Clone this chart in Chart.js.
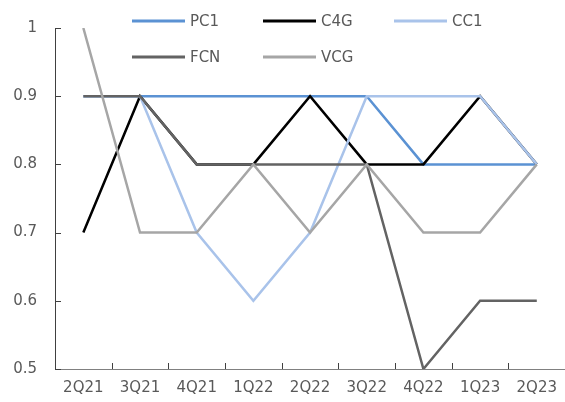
<!DOCTYPE html>
<html>
<head>
<meta charset="utf-8">
<script src="https://cdn.jsdelivr.net/npm/chart.js@4.4.1/dist/chart.umd.min.js"></script>
<style>
  html, body { margin: 0; padding: 0; background: #fff; overflow: hidden; }
  #wrap { position: relative; width: 567px; height: 402px; }
</style>
</head>
<body>
<div id="wrap"><canvas id="c" width="567" height="402"></canvas></div>
<script>
const categories = ['2Q21', '3Q21', '4Q21', '1Q22', '2Q22', '3Q22', '4Q22', '1Q23', '2Q23'];
const yTicks = [0.5, 0.6, 0.7, 0.8, 0.9, 1];
const PC1 = [0.9, 0.9, 0.9, 0.9, 0.9, 0.9, 0.8, 0.8, 0.8];
const C4G = [0.7, 0.9, 0.8, 0.8, 0.9, 0.8, 0.8, 0.9, 0.8];
const CC1 = [0.9, 0.9, 0.7, 0.6, 0.7, 0.9, 0.9, 0.9, 0.8];
const FCN = [0.9, 0.9, 0.8, 0.8, 0.8, 0.8, 0.5, 0.6, 0.6];
const VCG = [1.0, 0.7, 0.7, 0.8, 0.7, 0.8, 0.7, 0.7, 0.8];
const seriesNames = ['PC1', 'C4G', 'CC1', 'FCN', 'VCG'];

const colors = ['#5b92d3', '#000000', '#a9c3ea', '#636363', '#a6a6a6'];
const FONT = '"DejaVu Sans", sans-serif';
const TXT = '#595959';

const seriesData = [PC1, C4G, CC1, FCN, VCG];
const datasets = seriesNames.map((n, i) => ({
  label: n,
  data: seriesData[i],
  borderColor: colors[i],
  backgroundColor: colors[i],
  borderWidth: 2.5,
  pointRadius: 0,
  tension: 0,
  fill: false,
  order: seriesNames.length - i
}));

const legendPos = [[132, 21], [263, 21], [394, 21], [132, 57], [263, 57]];

const customPlugin = {
  id: 'custom',
  afterDraw(chart) {
    const ctx = chart.ctx;
    const xs = chart.scales.x, ys = chart.scales.y;
    const ca = chart.chartArea;
    ctx.save();
    // inward ticks on y axis
    ctx.strokeStyle = '#404040';
    ctx.lineWidth = 1;
    yTicks.forEach(v => {
      const y = Math.round(ys.getPixelForValue(v)) + 0.5;
      ctx.beginPath();
      ctx.moveTo(ca.left, y);
      ctx.lineTo(ca.left + 6, y);
      ctx.stroke();
    });
    // inward ticks on x axis at category boundaries
    ctx.strokeStyle = '#404040';
    for (let i = 0; i <= categories.length; i++) {
      let x;
      if (i === 0) x = ca.left;
      else if (i === categories.length) x = ca.right;
      else x = (xs.getPixelForValue(i - 1) + xs.getPixelForValue(i)) / 2;
      x = Math.round(x) + 0.5;
      ctx.beginPath();
      ctx.moveTo(x, ca.bottom);
      ctx.lineTo(x, ca.bottom - 6);
      ctx.stroke();
    }
    // legend
    ctx.font = '15px ' + FONT;
    ctx.textBaseline = 'middle';
    ctx.textAlign = 'left';
    chart.data.datasets.forEach((ds, i) => {
      const [lx, ly] = legendPos[i];
      ctx.strokeStyle = ds.borderColor;
      ctx.lineWidth = 3;
      ctx.beginPath();
      ctx.moveTo(lx, ly);
      ctx.lineTo(lx + 53, ly);
      ctx.stroke();
      ctx.fillStyle = TXT;
      ctx.fillText(ds.label, lx + 58, ly + 1);
    });
    ctx.restore();
  }
};

new Chart(document.getElementById('c'), {
  type: 'line',
  data: { labels: categories, datasets },
  options: {
    responsive: false,
    animation: false,
    devicePixelRatio: 1,
    layout: { padding: { top: 28, right: 0, left: 0, bottom: 0 } },
    plugins: { legend: { display: false }, tooltip: { enabled: false } },
    scales: {
      x: {
        offset: true,
        grid: { display: true, drawOnChartArea: false, drawTicks: false, offset: true },
        border: { display: true, color: '#808080', width: 1 },
        ticks: { color: TXT, font: { size: 15, family: FONT }, padding: 10, maxRotation: 0, autoSkip: false },
        afterFit: s => { s.height = 33; }
      },
      y: {
        min: 0.5, max: 1,
        grid: { display: true, drawOnChartArea: false, drawTicks: false },
        border: { display: true, color: '#404040', width: 1 },
        ticks: {
          stepSize: 0.1, color: TXT, font: { size: 15, family: FONT }, padding: 18,
          callback: v => String(Math.round(v * 10) / 10)
        },
        afterBuildTicks: s => { s.ticks = yTicks.map(v => ({ value: v })); },
        afterFit: s => { s.width = 55; }
      }
    }
  },
  plugins: [customPlugin]
});
</script>
</body>
</html>
